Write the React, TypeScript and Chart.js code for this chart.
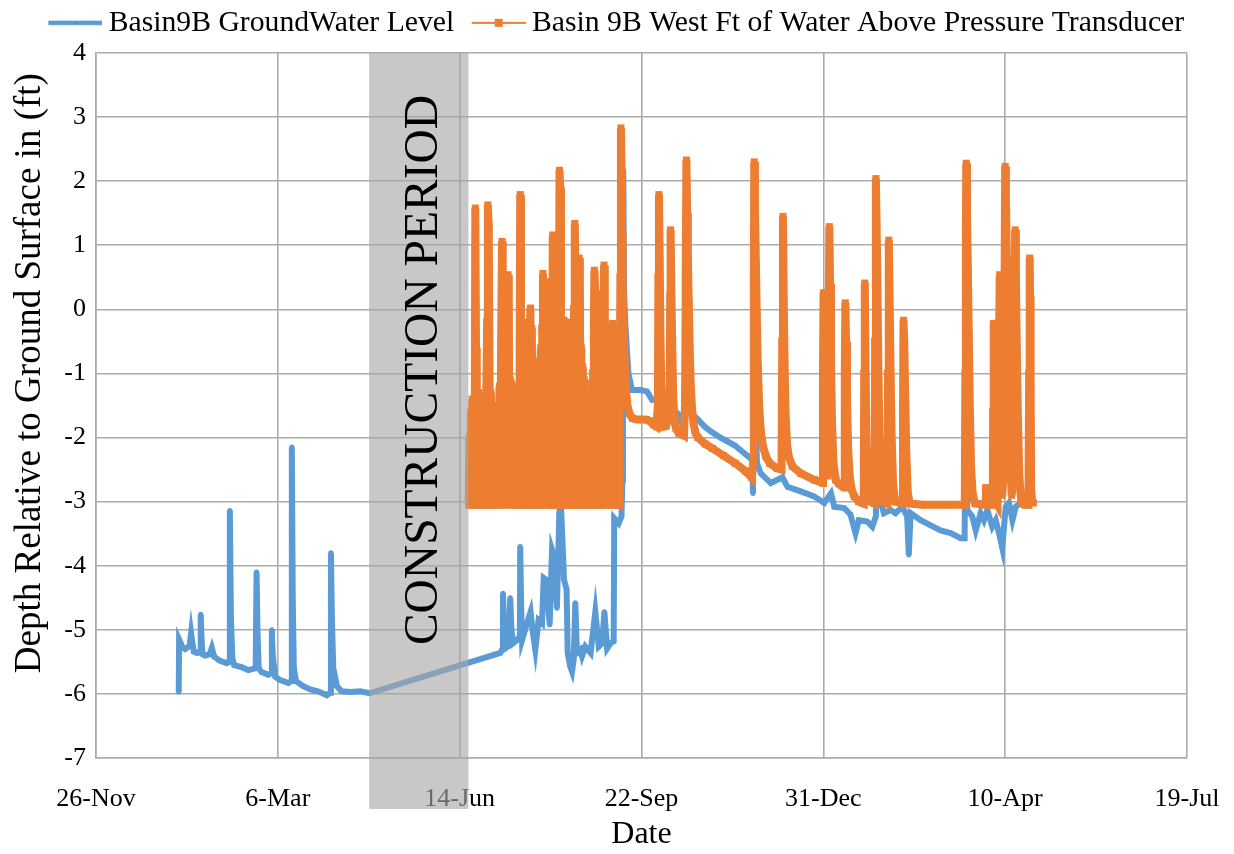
import React, { useEffect, useRef } from "react";
import { Chart, registerables } from "chart.js";

Chart.register(...registerables);

// ---- axis definitions (day 0 = 26-Nov) ----
const tickDays = [0, 100, 200, 300, 400, 500, 600];
const tickLabels = ["26-Nov", "6-Mar", "14-Jun", "22-Sep", "31-Dec", "10-Apr", "19-Jul"];
const yMin = -7;
const yMax = 4;

// construction period (days)
const constructionStart = 150.2;
const constructionEnd = 204.8;

// ---- Basin9B GroundWater Level: [day, ft] ----
const groundWaterBefore: [number, number][] = [
  [45.5, -5.97], [45.7, -5.15], [46.5, -5.2], [47.5, -5.27], [49, -5.3], [51.5, -5.25],
  [52.3, -5.05], [53, -5.2], [53.8, -5.34], [55.5, -5.36], [57.3, -5.35], [57.6, -4.76],
  [58, -5.1], [58.5, -5.38], [60, -5.4], [62.5, -5.38], [63.7, -5.28], [65, -5.42],
  [68, -5.48], [71.9, -5.52], [73.2, -5.5], [73.6, -3.14], [74.2, -4.8], [75, -5.45],
  [76, -5.55], [80, -5.58], [83.8, -5.63], [87.8, -5.6], [88.3, -4.1], [88.8, -5.0],
  [89.5, -5.6], [91, -5.66], [94.8, -5.7], [96.3, -5.68], [96.7, -5.0], [97.2, -5.4],
  [98.5, -5.73], [101, -5.78], [105.8, -5.83], [107.4, -5.8], [107.7, -2.15], [108.2, -4.5],
  [108.8, -5.6], [110, -5.8], [114, -5.88], [117.8, -5.93], [122, -5.96], [127, -6.02],
  [128.8, -5.98], [129.2, -3.8], [129.8, -4.9], [130.5, -5.6], [132.5, -5.88], [135, -5.96],
  [140, -5.97], [145.3, -5.96], [150.4, -5.99],
];

const groundWaterAfter: [number, number][] = [
  [222.3, -5.36], [223.5, -5.3], [223.8, -4.43], [224.5, -5.0], [225, -5.29], [227, -5.25],
  [227.8, -4.5], [228.5, -5.0], [229.3, -5.21], [231.5, -5.16], [233.1, -5.1], [233.3, -3.7],
  [233.8, -4.6], [234.3, -5.16], [237, -4.9], [239, -4.72], [240.3, -5.05], [241.6, -5.31],
  [243.4, -4.85], [245.3, -4.9], [246.2, -4.19], [247.7, -4.22], [249.5, -4.92], [250.8, -3.75],
  [252, -3.86], [253.5, -4.66], [254.8, -3.18], [255.6, -2.97], [257.4, -4.22], [258.8, -4.37],
  [259.4, -5.36], [260.8, -5.57], [261.8, -5.65], [262.7, -5.47], [263.6, -4.58], [264.5, -5.36],
  [266.4, -5.31], [267.3, -5.41], [269.1, -5.26], [272, -5.36], [274.6, -4.72], [276.5, -5.26],
  [278.3, -5.21], [279.6, -4.72], [281.1, -5.29], [282.9, -5.21], [284.7, -5.18], [285, -3.26],
  [287.4, -3.34], [289, -3.23], [289.5, -2.66], [289.8, 0.5], [290.0, 2.18], [290.4, 0.3],
  [291, -0.17], [292.8, -1.0], [294.8, -1.26], [299.4, -1.26], [303, -1.28], [305.8, -1.41],
  [309.4, -1.41], [313.2, -1.39], [316.8, -1.52], [320.5, -1.65], [323.3, -1.85], [324.2, 1.0],
  [325.2, -1.3], [327.4, -1.62], [331.1, -1.72], [334.8, -1.83], [338.4, -1.91], [343.9, -2.01],
  [351.2, -2.12], [356.7, -2.25], [361.0, -2.35], [361.3, -2.87], [361.6, 0.26], [362.5, -1.5],
  [363.5, -2.4], [365.6, -2.56], [371.1, -2.71], [377.5, -2.62], [380.3, -2.77], [387.6, -2.84],
  [395, -2.92], [400.5, -3.02], [404.2, -2.87], [406, -3.08], [411.5, -3.1], [414.9, -3.2],
  [417.7, -3.49], [419.5, -3.29], [424.1, -3.31], [426.9, -3.39], [428.9, -3.23], [429.8, -2.0],
  [430.7, -2.92], [433.3, -3.18], [437, -3.13], [439.7, -3.18], [443.4, -3.08], [446.1, -3.23],
  [447, -3.83], [448, -3.18], [453.5, -3.29], [459, -3.37], [464.5, -3.45], [470, -3.49],
  [475.5, -3.57], [477.7, -3.57], [478.2, -1.57], [479.2, -3.13], [481.9, -3.23], [483.8, -3.45],
  [486.5, -3.18], [488.3, -3.29], [490.2, -3.13], [492.9, -3.39], [494.8, -3.29], [496.6, -3.49],
  [498.4, -3.72], [500.3, -3.08], [502.1, -3.02], [504, -3.29], [505.8, -3.08], [508.5, -3.02],
  [511.3, -3.05],
];

// ---- Basin 9B West Ft of Water Above Pressure Transducer: [day, ft] ----
const transducerEarly: [number, number][] = [
  [205.0, -3.05], [205.3, -2.0], [205.7, -3.05], [206.1, -1.6], [206.5, -3.05], [206.9, -1.4],
  [207.3, -3.05], [207.8, -1.8], [208.2, -3.05], [208.6, 1.58], [209.0, -0.6], [209.4, -3.05],
  [209.8, -1.5], [210.2, -3.05], [210.6, -1.3], [211.0, -3.05], [211.4, -1.7], [211.8, -3.05],
  [212.2, -1.4], [212.6, -3.05], [213.0, -1.9], [213.4, -3.05], [213.8, -1.5], [214.2, -3.05],
  [214.7, -1.2], [215.1, -0.2], [215.5, 1.63], [216.0, 1.3], [216.4, -0.8], [216.8, -3.05],
  [217.2, -1.3], [217.6, -3.05], [218.0, -1.6], [218.4, -3.05], [220.7, -3.05], [221.1, -1.5],
  [221.5, -3.05], [221.9, -1.2], [222.3, -3.05], [222.8, -0.5], [223.3, 1.06], [223.7, -0.6],
  [224.1, -3.05], [224.5, -1.2], [224.9, -3.05], [225.3, -1.0], [225.7, -3.05], [226.1, -0.8],
  [226.6, 0.54], [227.0, 0.3], [227.4, -3.05], [227.8, -1.1], [228.2, -3.05], [228.6, -1.4],
  [229.0, -3.05], [229.4, -1.2], [229.8, -3.05], [230.2, -1.7], [230.6, -3.05], [232.7, -3.05],
  [233.0, -0.5], [233.3, 1.79], [233.7, -0.4], [234.1, -3.05], [234.5, -0.5], [234.9, -3.05],
  [235.3, -0.3], [235.7, -3.05], [236.1, -0.6], [236.5, -3.05], [236.9, -0.4], [237.3, -3.05],
  [237.7, -0.2], [238.1, -3.05], [238.5, -0.5], [238.9, 0.02], [239.3, -3.05], [239.7, -0.3],
  [240.1, -3.05], [240.5, -0.8], [240.9, -3.05], [241.3, -1.4], [241.6, -3.05], [243.4, -3.05],
  [243.8, -1.2], [244.2, -3.05], [244.6, -0.6], [245.0, -3.05], [245.4, -0.3], [245.8, 0.56],
  [246.2, -0.2], [246.6, -3.05], [247.0, -0.6], [247.4, -0.1], [247.8, 0.43], [248.2, -3.05],
  [248.6, -0.5], [249.0, -3.05], [249.4, -0.3], [249.8, -3.05], [250.2, -0.1], [250.7, -3.05],
  [251.2, 1.16], [251.6, 0.9], [252.0, -3.05], [252.4, -0.4], [252.8, -3.05], [253.2, -0.2],
  [253.6, -3.05], [254.0, -0.5], [254.4, -3.05], [254.9, 2.17], [255.3, 1.9], [255.7, -0.9],
  [256.1, -3.05], [256.5, -0.4], [256.9, -3.05], [257.3, -0.17], [257.7, -3.05], [258.1, -0.5],
  [258.5, -3.05], [258.9, -0.3], [259.3, -3.05], [259.7, -0.6], [260.1, -3.05], [260.5, -0.2],
  [260.9, -3.05], [261.3, -0.7], [261.7, -3.05], [262.1, -0.4], [262.5, -3.05], [262.9, 0.0],
  [263.3, 1.34], [263.7, 0.5], [264.1, -3.05], [264.5, -0.5], [264.9, -3.05], [265.3, -0.3],
  [265.7, 0.8], [266.1, 0.6], [266.5, -3.05], [266.9, -0.6], [267.3, -3.05], [267.7, -0.9],
  [268.1, -3.05], [268.5, -1.1], [268.9, -3.05], [269.3, -1.4], [269.7, -3.05], [270.1, -1.8],
  [270.4, -3.05], [273.0, -3.05], [273.4, -1.0], [273.8, -0.2], [274.1, 0.61], [274.5, 0.3],
  [274.9, -3.05], [275.3, -1.0], [275.7, -3.05], [276.1, -0.8], [276.5, -3.05], [276.9, -1.2],
  [277.3, -3.05], [277.7, -0.9], [278.1, -3.05], [278.5, -1.1], [278.9, -0.3], [279.4, 0.69],
  [279.8, 0.2], [280.2, -3.05], [280.6, -1.0], [281.0, -3.05], [281.4, -1.2], [281.8, -3.05],
  [282.2, -1.3], [282.6, -3.05], [283.0, -1.0], [283.4, -3.05], [283.8, -0.7], [284.1, -0.22],
  [284.5, -3.05], [284.9, -1.2], [285.3, -3.05], [285.7, -1.6], [286.1, -3.05], [286.5, -1.4],
  [286.9, -3.05], [287.3, -1.8], [287.7, -3.05], [288.1, -1.0], [288.4, 0.5], [288.7, 2.83],
];

const transducerLate: [number, number][] = [
  [289.0, 2.2], [289.3, 1.2], [289.6, 0.36], [290.0, -0.17], [290.5, -0.6], [291.0, -0.95],
  [291.6, -1.3], [292.3, -1.5], [293.2, -1.62], [295.0, -1.7], [297.5, -1.72], [300.0, -1.72],
  [302.5, -1.72], [304.5, -1.74], [306.5, -1.8], [308.2, -1.83], [309.0, -1.5], [309.3, 0.5],
  [309.6, 1.79], [310.0, 0.8], [310.4, -0.4], [310.9, -1.2], [311.5, -1.6], [312.2, -1.83],
  [313.5, -1.82], [314.8, -1.7], [315.5, -1.2], [315.8, 0.2], [316.0, 1.24], [316.4, 0.4],
  [316.9, -0.6], [317.5, -1.4], [318.2, -1.75], [319.0, -1.86], [320.5, -1.93], [322.0, -1.95],
  [323.4, -1.97], [324.0, -1.4], [324.3, 0.5], [324.7, 2.33], [325.1, 1.5], [325.5, 0.8],
  [326.0, 0.1], [326.5, -0.6], [327.1, -1.2], [327.8, -1.55], [328.6, -1.78], [329.6, -1.92],
  [331, -2.0], [335, -2.1], [339, -2.17], [345, -2.28], [351.5, -2.4], [357, -2.52],
  [360.8, -2.63], [361.5, -2.3], [361.8, 0.5], [362.0, 2.3], [362.4, 1.6], [362.9, 0.7],
  [363.4, -0.1], [364.0, -0.9], [364.7, -1.5], [365.6, -1.9], [366.8, -2.14], [368.5, -2.3],
  [370.5, -2.4], [374.5, -2.48], [377.0, -2.5], [377.4, -0.5], [377.8, 1.45], [378.2, 0.2],
  [378.6, -0.68], [379.2, -1.6], [380.0, -2.1], [381.0, -2.3], [383, -2.45], [387.6, -2.56],
  [395, -2.66], [399.6, -2.71], [399.8, -1.0], [400.1, 0.26], [400.4, -0.8], [400.8, -1.8],
  [401.5, -2.4], [402.5, -2.6], [402.9, -0.5], [403.3, 1.29], [403.7, 0.4], [404.2, -0.8],
  [404.8, -1.8], [405.6, -2.4], [406.8, -2.66], [408.5, -2.72], [410.0, -2.75], [411.4, -2.78],
  [411.8, -1.0], [412.1, 0.1], [412.5, -0.5], [413.0, -1.4], [413.7, -2.2], [414.5, -2.6],
  [415.5, -2.8], [417, -2.92], [419.5, -3.0], [422.2, -3.03], [422.5, -1.0], [422.8, 0.41],
  [423.2, -0.8], [423.7, -2.0], [424.4, -2.8], [425.5, -3.0], [428.2, -3.03], [428.5, -0.5],
  [428.9, 2.04], [429.3, 1.3], [429.8, 0.3], [430.3, -1.0], [430.9, -2.0], [431.5, -2.7],
  [432.5, -3.0], [435.2, -3.03], [435.6, -1.0], [436.0, 1.08], [436.4, 0.3], [436.9, -0.8],
  [437.5, -1.9], [438.3, -2.7], [439.5, -3.0], [443.6, -3.03], [443.8, -1.5], [444.1, -0.17],
  [444.5, -0.5], [445.0, -1.3], [445.6, -2.2], [446.4, -2.85], [447.5, -3.03], [455, -3.05],
  [462, -3.05], [470, -3.05], [477.8, -3.05], [478.1, -1.0], [478.4, 1.2], [478.6, 2.28],
  [479.0, 1.6], [479.5, 0.6], [480.0, -0.4], [480.6, -1.6], [481.3, -2.5], [482.2, -2.9],
  [483.5, -3.03], [489.3, -3.05], [489.5, -2.79], [491.0, -2.79], [491.2, -3.05], [493.2, -3.05],
  [493.4, -1.6], [493.6, -0.22], [493.8, -0.6], [494.0, -1.1], [494.2, -1.6], [494.5, -2.4],
  [494.8, -3.0], [495.8, -3.05], [496.3, -2.0], [496.6, -0.5], [497.0, 0.54], [497.4, -0.5],
  [497.8, -1.8], [498.4, -2.9], [499.3, -2.5], [499.7, 0.5], [500.0, 2.23], [500.4, 1.8],
  [500.9, 0.8], [501.5, -0.4], [502.1, -1.5], [502.8, -2.4], [503.6, -2.9], [504.6, -2.6],
  [505.0, -0.5], [505.5, 1.24], [505.9, 0.5], [506.4, -0.6], [507.0, -1.7], [507.8, -2.6],
  [508.8, -3.0], [510.5, -3.05], [512.8, -3.05], [513.2, -1.0], [513.5, 0.8], [513.7, 0.2],
  [513.9, -0.5], [514.1, -1.2], [514.3, -2.79], [514.8, -3.0], [515.5, -3.02],
];

const BLUE = "#5b9bd5";
const ORANGE = "#ed7d31";
const GRID = "#ababab";
const FONT = "'Liberation Serif', 'Times New Roman', serif";

function makeLegendImage(kind: "blue" | "orange"): HTMLCanvasElement {
  const c = document.createElement("canvas");
  c.width = 74;
  c.height = 12;
  const g = c.getContext("2d")!;
  if (kind === "blue") {
    g.strokeStyle = BLUE;
    g.lineWidth = 4.5;
    g.beginPath();
    g.moveTo(20, 6);
    g.lineTo(74, 6);
    g.stroke();
    g.fillStyle = "#4a8ccc";
    g.beginPath();
    g.arc(47, 6, 1.6, 0, Math.PI * 2);
    g.fill();
  } else {
    g.strokeStyle = ORANGE;
    g.lineWidth = 2;
    g.beginPath();
    g.moveTo(20, 6);
    g.lineTo(74, 6);
    g.stroke();
    g.fillStyle = ORANGE;
    g.fillRect(43, 2, 8, 8);
  }
  return c;
}

const constructionPlugin = {
  id: "constructionBand",
  afterDraw(chart: any) {
    const { ctx, chartArea, scales } = chart;
    const x0 = scales.x.getPixelForValue(constructionStart);
    const x1 = scales.x.getPixelForValue(constructionEnd);
    ctx.save();
    ctx.fillStyle = "rgba(166,166,166,0.62)";
    ctx.fillRect(x0, chartArea.top, x1 - x0, chartArea.bottom + 51 - chartArea.top);
    ctx.translate((x0 + x1) / 2 + 6, 370);
    ctx.rotate(-Math.PI / 2);
    ctx.fillStyle = "#000";
    ctx.font = `47.5px ${FONT}`;
    ctx.textAlign = "center";
    ctx.textBaseline = "middle";
    ctx.fillText("CONSTRUCTION PERIOD", 0, 0);
    ctx.restore();
  },
};

const legendPlacementPlugin = {
  id: "legendPlacement",
  beforeUpdate(chart: any) {
    const lg = chart.legend;
    if (lg && !lg._fixedFit) {
      const origFit = lg.fit;
      lg.fit = function () {
        origFit.call(this);
        this.height = 53;
      };
      const origDraw = lg.draw;
      lg.draw = function () {
        const c = this.ctx;
        c.save();
        c.translate(17, 2);
        origDraw.call(this);
        c.restore();
      };
      lg._fixedFit = true;
    }
  },
};

export default function App() {
  const ref = useRef<HTMLCanvasElement | null>(null);

  useEffect(() => {
    document.body.style.margin = "0";
    const canvas = ref.current;
    if (!canvas) return;
    const legendImages = [makeLegendImage("blue"), makeLegendImage("orange")];
    const toXY = (arr: [number, number][]) => arr.map(([x, y]) => ({ x, y }));

    const chart = new Chart(canvas, {
      type: "line",
      data: {
        datasets: [
          {
            label: "Basin9B GroundWater Level",
            data: toXY([...groundWaterBefore, ...groundWaterAfter]),
            borderColor: BLUE,
            backgroundColor: BLUE,
            borderWidth: 6,
            pointRadius: 2.6,
            pointBorderWidth: 0,
            pointStyle: "circle",
            tension: 0,
            order: 1,
          },
          {
            label: "Basin 9B West Ft of Water Above Pressure Transducer",
            data: toXY([...transducerEarly, ...transducerLate]),
            borderColor: ORANGE,
            backgroundColor: ORANGE,
            borderWidth: 8,
            pointRadius: 5,
            pointBorderWidth: 0,
            pointStyle: "rect",
            tension: 0,
            order: 0,
          },
        ],
      },
      options: {
        animation: false,
        responsive: false,
        maintainAspectRatio: false,
        layout: { padding: { right: 47, left: 0, top: 0, bottom: 0 } },
        scales: {
          x: {
            type: "linear",
            min: tickDays[0],
            max: tickDays[tickDays.length - 1],
            afterBuildTicks: (scale: any) => {
              scale.ticks = tickDays.map((v) => ({ value: v }));
            },
            afterFit: (scale: any) => {
              scale.height = 96;
              scale.paddingLeft = 0;
              scale.paddingRight = 0;
            },
            ticks: {
              autoSkip: false,
              maxRotation: 0,
              padding: 26,
              color: "#000",
              font: { family: FONT, size: 26 },
              callback: (v: any) => {
                const i = tickDays.indexOf(Number(v));
                return i >= 0 ? tickLabels[i] : "";
              },
            },
            grid: { color: GRID, lineWidth: 1.6, drawTicks: false },
            border: { color: GRID, width: 1.6 },
            title: {
              display: true,
              text: "Date",
              color: "#000",
              font: { family: FONT, size: 32 },
              padding: { top: 0, bottom: 0 },
            },
          },
          y: {
            min: yMin,
            max: yMax,
            afterFit: (scale: any) => {
              scale.width = 96;
            },
            ticks: {
              stepSize: 1,
              padding: 10,
              color: "#000",
              font: { family: FONT, size: 26 },
            },
            grid: { color: GRID, lineWidth: 1.6, drawTicks: false },
            border: { color: GRID, width: 1.6 },
            title: {
              display: true,
              text: "       Depth Relative to Ground Surface in (ft)",
              color: "#000",
              font: { family: FONT, size: 37 },
              padding: { top: 8, bottom: 0 },
            },
          },
        },
        plugins: {
          tooltip: { enabled: false },
          legend: {
            display: true,
            position: "top",
            labels: {
              usePointStyle: true,
              pointStyleWidth: 57,
              padding: 6,
              color: "#000",
              font: { family: FONT, size: 29.7 },
              sort: (a: any, b: any) => a.datasetIndex - b.datasetIndex,
              generateLabels: (ch: any) => {
                const items = (Chart.defaults.plugins.legend.labels as any).generateLabels(ch);
                items.forEach((it: any) => {
                  it.pointStyle = legendImages[it.datasetIndex];
                });
                return items;
              },
            },
          },
        },
      } as any,
      plugins: [constructionPlugin, legendPlacementPlugin],
    });

    return () => chart.destroy();
  }, []);

  return (
    <div style={{ width: 1234, height: 854 }}>
      <canvas ref={ref} width={1234} height={854} style={{ display: "block", width: 1234, height: 854 }} />
    </div>
  );
}
